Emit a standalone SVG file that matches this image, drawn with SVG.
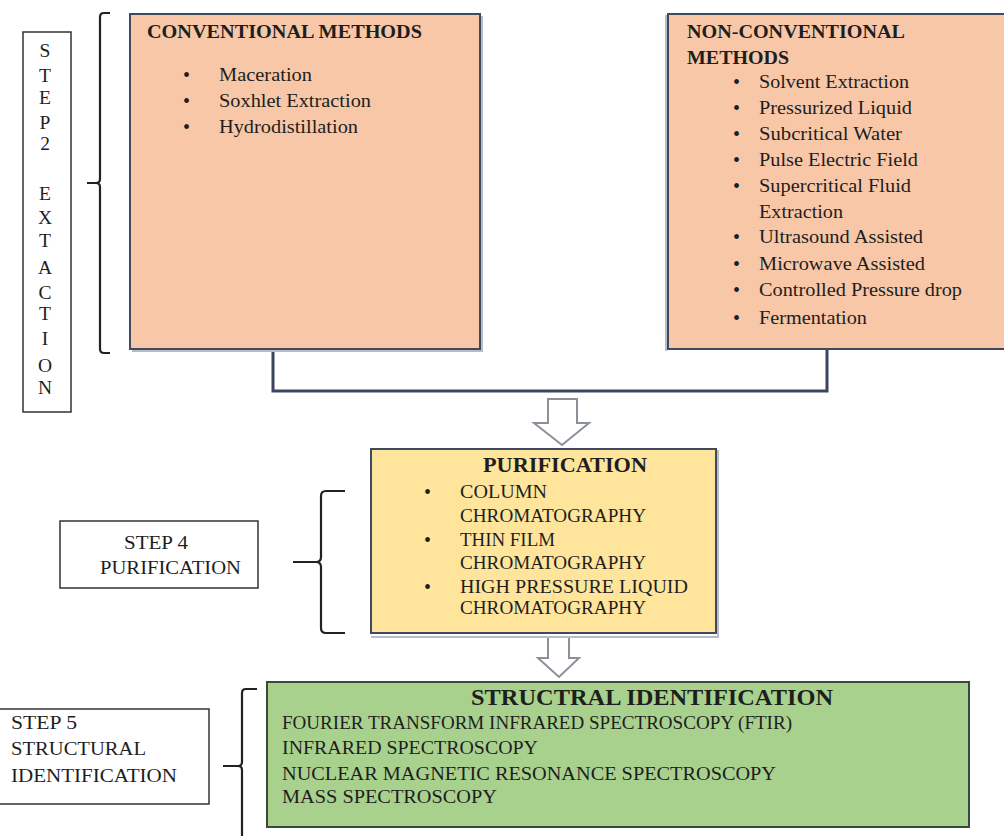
<svg xmlns="http://www.w3.org/2000/svg" width="1004" height="836" viewBox="0 0 1004 836">
<style>
text{font-family:"Liberation Serif","Times New Roman",serif;fill:#1e1e1e;}
.t{font-size:19.5px;}
.b{font-weight:bold;}
.bu{font-size:20px;}
.box{stroke:#3f4a60;stroke-width:2;}
.pe{fill:#f7c7a7;}
.ye{fill:#ffe59b;}
.gr{fill:#a9d18e;}
.lab{fill:#fff;stroke:#333;stroke-width:1.5;}
.br{fill:none;stroke:#222;stroke-width:2.2;}
.conn{fill:none;stroke:#3b4560;stroke-width:3;}
.ha{fill:#fff;stroke:#8c9099;stroke-width:2;stroke-linejoin:miter;}
.sh{fill:none;stroke:#b9bcc4;stroke-width:2;}
</style>

<g id="connectors">
<path class="conn" d="M273,350 V391 H827 V350"/>
<path class="ha" d="M548,399 H577 V423 H589 L562,445 L534,423 H548 Z"/>
<path class="ha" d="M548,637 H569 V658 H579 L559,677 L538,658 H548 Z"/>
</g>

<g id="step2">
<rect class="lab" x="23" y="32" width="48" height="380"/>
<g class="t" text-anchor="middle">
<text x="45" y="57">S</text>
<text x="45" y="82">T</text>
<text x="45" y="104">E</text>
<text x="45" y="129">P</text>
<text x="45" y="150">2</text>
<text x="45" y="200">E</text>
<text x="45" y="224">X</text>
<text x="45" y="247">T</text>
<text x="45" y="274">A</text>
<text x="45" y="299">C</text>
<text x="45" y="320">T</text>
<text x="45" y="345">I</text>
<text x="45" y="372">O</text>
<text x="45" y="394">N</text>
</g>
<path class="br" d="M110,13 H104 Q100,13 100,17 V179 Q100,183 96,183 H87 M96,183 Q100,183 100,187 V349 Q100,353 104,353 H110"/>
</g>

<g id="conventional">
<path class="sh" d="M482,16 V351 H132"/>
<rect class="box pe" x="130" y="14" width="350" height="335"/>
<text class="t b" x="147" y="38" textLength="275" lengthAdjust="spacingAndGlyphs">CONVENTIONAL METHODS</text>
<g class="t">
<text class="bu" x="183" y="82">•</text><text x="219" y="81" textLength="93" lengthAdjust="spacingAndGlyphs">Maceration</text>
<text class="bu" x="183" y="108">•</text><text x="219" y="107" textLength="152" lengthAdjust="spacingAndGlyphs">Soxhlet Extraction</text>
<text class="bu" x="183" y="134">•</text><text x="219" y="133" textLength="139" lengthAdjust="spacingAndGlyphs">Hydrodistillation</text>
</g>
</g>

<g id="nonconventional">
<path class="sh" d="M666,351 V15"/>
<rect class="box pe" x="668" y="14" width="340" height="335"/>
<text class="t b" x="687" y="38" textLength="218" lengthAdjust="spacingAndGlyphs">NON-CONVENTIONAL</text>
<text class="t b" x="687" y="64" textLength="102" lengthAdjust="spacingAndGlyphs">METHODS</text>
<g class="t">
<text class="bu" x="733" y="89">•</text><text x="759" y="88" textLength="150" lengthAdjust="spacingAndGlyphs">Solvent Extraction</text>
<text class="bu" x="733" y="115">•</text><text x="759" y="114" textLength="153" lengthAdjust="spacingAndGlyphs">Pressurized Liquid</text>
<text class="bu" x="733" y="141">•</text><text x="759" y="140" textLength="143" lengthAdjust="spacingAndGlyphs">Subcritical Water</text>
<text class="bu" x="733" y="167">•</text><text x="759" y="166" textLength="159" lengthAdjust="spacingAndGlyphs">Pulse Electric Field</text>
<text class="bu" x="733" y="193">•</text><text x="759" y="192" textLength="152" lengthAdjust="spacingAndGlyphs">Supercritical Fluid</text>
<text x="759" y="218" textLength="84" lengthAdjust="spacingAndGlyphs">Extraction</text>
<text class="bu" x="733" y="244">•</text><text x="759" y="243" textLength="164" lengthAdjust="spacingAndGlyphs">Ultrasound Assisted</text>
<text class="bu" x="733" y="271">•</text><text x="759" y="270" textLength="166" lengthAdjust="spacingAndGlyphs">Microwave Assisted</text>
<text class="bu" x="733" y="297">•</text><text x="759" y="296" textLength="203" lengthAdjust="spacingAndGlyphs">Controlled Pressure drop</text>
<text class="bu" x="733" y="325">•</text><text x="759" y="324" textLength="108" lengthAdjust="spacingAndGlyphs">Fermentation</text>
</g>
</g>

<g id="purification">
<path class="sh" d="M371,637 H718 V450"/>
<rect class="box ye" x="371" y="449" width="345" height="184"/>
<text class="b" x="483" y="472" font-size="22" textLength="164" lengthAdjust="spacingAndGlyphs">PURIFICATION</text>
<g class="t">
<text class="bu" x="424" y="499">•</text><text x="460" y="498" textLength="87" lengthAdjust="spacingAndGlyphs">COLUMN</text>
<text x="460" y="522" textLength="186" lengthAdjust="spacingAndGlyphs">CHROMATOGRAPHY</text>
<text class="bu" x="424" y="547">•</text><text x="460" y="546" textLength="95" lengthAdjust="spacingAndGlyphs">THIN FILM</text>
<text x="460" y="569" textLength="186" lengthAdjust="spacingAndGlyphs">CHROMATOGRAPHY</text>
<text class="bu" x="424" y="594">•</text><text x="460" y="593" textLength="228" lengthAdjust="spacingAndGlyphs">HIGH PRESSURE LIQUID</text>
<text x="460" y="614" textLength="186" lengthAdjust="spacingAndGlyphs">CHROMATOGRAPHY</text>
</g>
</g>

<g id="step4">
<rect class="lab" x="60" y="521" width="198" height="67"/>
<text class="t" x="124" y="549" textLength="64" lengthAdjust="spacingAndGlyphs">STEP 4</text>
<text class="t" x="100" y="574" textLength="141" lengthAdjust="spacingAndGlyphs">PURIFICATION</text>
<path class="br" d="M345,491 H326 Q321,491 321,496 V557 Q321,562 316,562 H293 M316,562 Q321,562 321,567 V628 Q321,633 326,633 H345"/>
</g>

<g id="structural">
<rect class="box gr" x="267" y="682" width="702" height="145" style="stroke:#3a4a3a"/>
<text class="b" x="471" y="705" font-size="24" textLength="362" lengthAdjust="spacingAndGlyphs">STRUCTRAL IDENTIFICATION</text>
<g class="t">
<text x="282" y="729" textLength="510" lengthAdjust="spacingAndGlyphs">FOURIER TRANSFORM INFRARED SPECTROSCOPY (FTIR)</text>
<text x="282" y="754" textLength="256" lengthAdjust="spacingAndGlyphs">INFRARED SPECTROSCOPY</text>
<text x="282" y="780" textLength="494" lengthAdjust="spacingAndGlyphs">NUCLEAR MAGNETIC RESONANCE SPECTROSCOPY</text>
<text x="282" y="803" textLength="215" lengthAdjust="spacingAndGlyphs">MASS SPECTROSCOPY</text>
</g>
</g>

<g id="step5">
<rect class="lab" x="-5" y="709" width="214" height="95"/>
<text class="t" x="11" y="729" textLength="66" lengthAdjust="spacingAndGlyphs">STEP 5</text>
<text class="t" x="11" y="755" textLength="135" lengthAdjust="spacingAndGlyphs">STRUCTURAL</text>
<text class="t" x="11" y="782" textLength="166" lengthAdjust="spacingAndGlyphs">IDENTIFICATION</text>
<path class="br" d="M257,689 H246 Q242,689 242,693 V762 Q242,766 238,766 H223 M238,766 Q242,766 242,770 V840"/>
</g>
</svg>
